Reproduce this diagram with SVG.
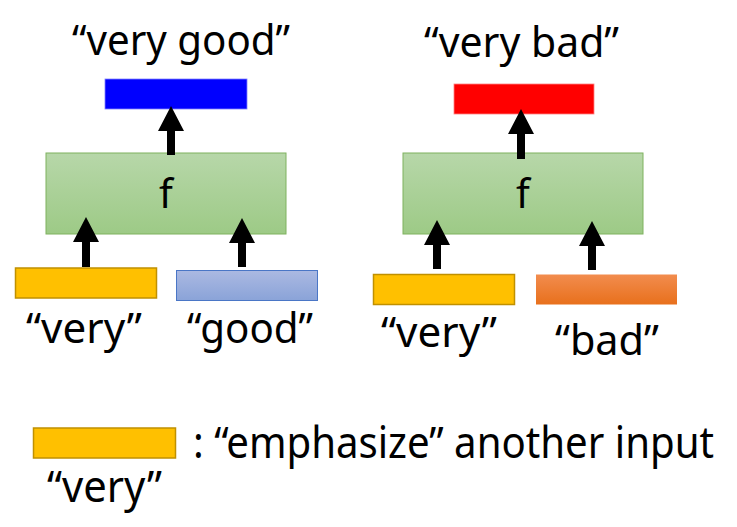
<svg xmlns="http://www.w3.org/2000/svg" width="737" height="527" viewBox="0 0 737 527">
<defs>
<linearGradient id="gGreen" x1="0" y1="0" x2="0" y2="1"><stop offset="0" stop-color="#b7d7a9"/><stop offset="1" stop-color="#9dca86"/></linearGradient>
<linearGradient id="gBlue" x1="0" y1="0" x2="0" y2="1"><stop offset="0" stop-color="#abb9e2"/><stop offset="1" stop-color="#8aa3d8"/></linearGradient>
<linearGradient id="gOrange" x1="0" y1="0" x2="0" y2="1"><stop offset="0" stop-color="#f28c4e"/><stop offset="1" stop-color="#e8701c"/></linearGradient>
</defs>
<style>
text{font-family:"Noto Sans","Open Sans","Liberation Sans",sans-serif;fill:#000;}
.lbl{font-size:42px;}
.leg{font-size:44px;}
.f{font-size:40px;text-anchor:middle;}
.green{fill:url(#gGreen);stroke:#7fb25f;stroke-width:1;}
.yellow{fill:#ffc000;stroke:#c09000;stroke-width:1.5;}
.arrow{fill:#000;}
</style>
<rect width="737" height="527" fill="#fff"/>
<g id="left-output"><rect x="105" y="79" width="142" height="30" fill="#0000ff" stroke="#8080ff" stroke-width="0.8"/><text class="lbl" x="72" y="55" textLength="218" lengthAdjust="spacingAndGlyphs">“very good”</text></g>
<g id="left-f"><rect class="green" x="46" y="153" width="240" height="81"/><text class="f" x="166" y="208">f</text></g>
<g id="left-very"><rect class="yellow" x="15.5" y="268" width="141" height="30"/><text class="lbl" x="26" y="343" textLength="116" lengthAdjust="spacingAndGlyphs">“very”</text></g>
<g id="left-good"><rect x="176.5" y="270.5" width="141" height="30" fill="url(#gBlue)" stroke="#4a76c6" stroke-width="1"/><text class="lbl" x="187" y="343" textLength="126" lengthAdjust="spacingAndGlyphs">“good”</text></g>
<g id="right-output"><rect x="454" y="84" width="140" height="30" fill="#ff0000" stroke="#ff8080" stroke-width="0.8"/><text class="lbl" x="424" y="57" textLength="195" lengthAdjust="spacingAndGlyphs">“very bad”</text></g>
<g id="right-f"><rect class="green" x="403" y="153" width="240" height="81"/><text class="f" x="523" y="208">f</text></g>
<g id="right-very"><rect class="yellow" x="373.5" y="274.5" width="141" height="30"/><text class="lbl" x="381" y="347" textLength="116" lengthAdjust="spacingAndGlyphs">“very”</text></g>
<g id="right-bad"><rect x="536" y="274.5" width="141" height="30" fill="url(#gOrange)"/><text class="lbl" x="555" y="355" textLength="104" lengthAdjust="spacingAndGlyphs">“bad”</text></g>
<g id="legend"><rect class="yellow" x="33.5" y="428" width="142" height="30"/><text class="leg" x="193" y="458" textLength="521" lengthAdjust="spacingAndGlyphs">: “emphasize” another input</text><text class="leg" x="47" y="502" textLength="115" lengthAdjust="spacingAndGlyphs">“very”</text></g>
<g id="connectors">
<path class="arrow" d="M171 106 L184 131 L175 131 L175 155 L167 155 L167 131 L158 131 Z"/>
<path class="arrow" d="M86 217 L99 242 L90 242 L90 267 L82 267 L82 242 L73 242 Z"/>
<path class="arrow" d="M242 218 L255 243 L246 243 L246 267 L238 267 L238 243 L229 243 Z"/>
<path class="arrow" d="M521 109 L534 134 L525 134 L525 159 L517 159 L517 134 L508 134 Z"/>
<path class="arrow" d="M437 220 L450 245 L441 245 L441 269 L433 269 L433 245 L424 245 Z"/>
<path class="arrow" d="M592 221 L605 246 L596 246 L596 270 L588 270 L588 246 L579 246 Z"/>
</g>
</svg>
